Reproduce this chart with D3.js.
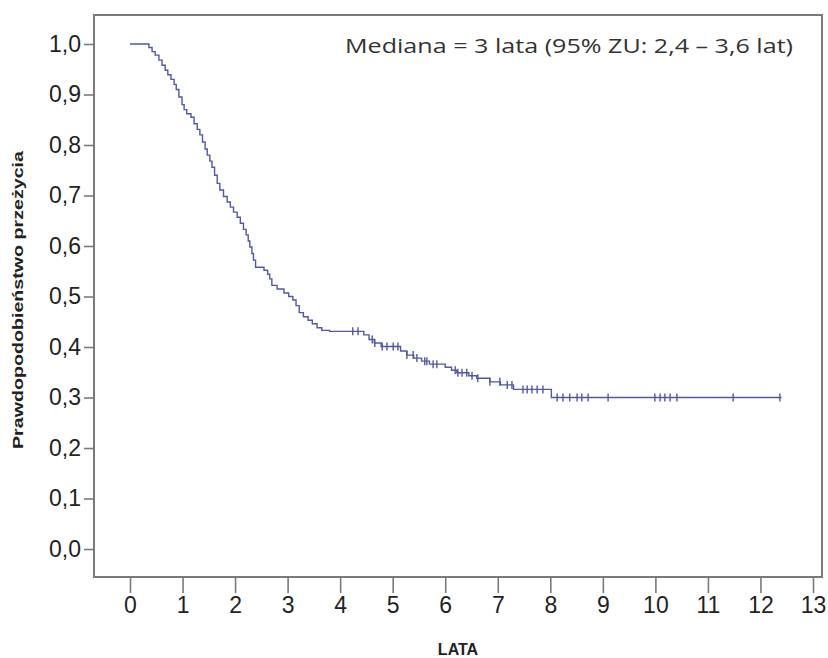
<!DOCTYPE html>
<html>
<head>
<meta charset="utf-8">
<script src="https://cdn.jsdelivr.net/npm/d3@7"></script>
<style>
html,body{margin:0;padding:0;background:#fff;}
svg{display:block;}
</style>
</head>
<body>
<svg id="chart" width="828" height="658"></svg>
<script>
// ---- data ----
const eventTimes = [0, 0.36,0.42,0.48,0.55,0.61,0.67,0.72,0.78,0.84,0.88,0.93,0.99,1.03,1.08,1.16,1.22,1.28,1.33,1.38,1.43,1.47,1.52,1.56,1.61,1.66,1.71,1.78,1.85,1.91,1.97,2.04,2.10,2.16,2.21,2.25,2.28,2.32,2.35,2.39,2.55,2.62,2.66,2.70,2.80,2.93,3.02,3.10,3.16,3.22,3.30,3.39,3.47,3.56,3.65,3.80,4.45,4.55,4.65,4.78,5.15,5.27,5.40,5.55,5.70,6.00,6.12,6.22,6.45,6.60,6.85,7.05,7.30,8.02];
const survival   = [1.0, 0.993,0.985,0.978,0.968,0.958,0.948,0.939,0.930,0.920,0.910,0.895,0.880,0.870,0.862,0.855,0.842,0.831,0.820,0.806,0.792,0.780,0.768,0.756,0.740,0.724,0.711,0.698,0.687,0.677,0.667,0.657,0.645,0.633,0.622,0.610,0.598,0.585,0.572,0.558,0.552,0.544,0.535,0.522,0.515,0.507,0.500,0.493,0.482,0.468,0.460,0.453,0.446,0.438,0.433,0.431,0.424,0.415,0.408,0.401,0.392,0.384,0.378,0.372,0.366,0.360,0.354,0.349,0.343,0.338,0.331,0.325,0.316,0.300];
const endTime = 12.40;
const censorTimes = [4.24,4.34,4.61,4.66,4.80,4.89,5.01,5.10,5.27,5.39,5.46,5.61,5.65,5.77,5.84,6.19,6.24,6.32,6.41,6.51,6.62,6.85,7.04,7.18,7.27,7.48,7.56,7.65,7.75,7.86,8.13,8.24,8.37,8.51,8.60,8.72,9.10,9.99,10.09,10.18,10.28,10.41,11.48,12.37];
const xTicks = [0,1,2,3,4,5,6,7,8,9,10,11,12,13];
const yTicks = [0,0.1,0.2,0.3,0.4,0.5,0.6,0.7,0.8,0.9,1.0];
const yTitle = "Prawdopodobieństwo przeżycia";
const xTitle = "LATA";
const note = "Mediana = 3 lata (95% ZU: 2,4 – 3,6 lat)";

// ---- layout ----
const svg = d3.select("#chart");
const frame = {left: 94, top: 15, right: 822, bottom: 577};
const x = d3.scaleLinear().domain([0, 13]).range([130, 813]);
const y = d3.scaleLinear().domain([0, 1]).range([549, 44]);
const curveColor = "#5158a6";
const axisColor = "#7a7a7a";
const fmt = d => d.toFixed(1).replace(".", ",");

// frame
svg.append("rect")
  .attr("x", frame.left).attr("y", frame.top)
  .attr("width", frame.right - frame.left).attr("height", frame.bottom - frame.top)
  .attr("fill", "none").attr("stroke", axisColor).attr("stroke-width", 2);

// y axis
const yAxis = d3.axisLeft(y).tickValues(yTicks).tickFormat(fmt).tickSize(10).tickSizeOuter(0).tickPadding(3);
const gy = svg.append("g").attr("transform", `translate(${frame.left},0)`).call(yAxis);
gy.select(".domain").remove();
gy.selectAll(".tick line").attr("stroke", axisColor).attr("stroke-width", 1.6);
gy.selectAll(".tick text").attr("fill", "#222").attr("font-family", "Liberation Sans, Arial, sans-serif").attr("font-size", 23);

// x axis
const xAxis = d3.axisBottom(x).tickValues(xTicks).tickFormat(d3.format("d")).tickSize(16).tickSizeOuter(0).tickPadding(4);
const gx = svg.append("g").attr("transform", `translate(0,${frame.bottom})`).call(xAxis);
gx.select(".domain").remove();
gx.selectAll(".tick line").attr("stroke", axisColor).attr("stroke-width", 1.6);
gx.selectAll(".tick text").attr("fill", "#222").attr("font-family", "Liberation Sans, Arial, sans-serif").attr("font-size", 23);

// titles
svg.append("text")
  .attr("transform", "translate(23,300) rotate(-90)")
  .attr("text-anchor", "middle")
  .attr("font-family", "Liberation Sans, Arial, sans-serif")
  .attr("font-weight", "bold").attr("font-size", 15).attr("fill", "#222")
  .attr("textLength", 298).attr("lengthAdjust", "spacingAndGlyphs")
  .text(yTitle);

svg.append("text")
  .attr("x", 458).attr("y", 655)
  .attr("text-anchor", "middle")
  .attr("font-family", "Liberation Sans, Arial, sans-serif")
  .attr("font-weight", "bold").attr("font-size", 16).attr("fill", "#222")
  .text(xTitle);

// annotation
svg.append("text")
  .attr("x", 345).attr("y", 53)
  .attr("font-family", "Open Sans, Lato, sans-serif")
  .attr("font-size", 20).attr("fill", "#333")
  .attr("textLength", 448).attr("lengthAdjust", "spacingAndGlyphs")
  .text(note);

// KM curve
const pts = eventTimes.map((t, i) => [t, survival[i]]);
pts.push([endTime, survival[survival.length - 1]]);
const line = d3.line().x(d => x(d[0])).y(d => y(d[1])).curve(d3.curveStepAfter);
svg.append("path").datum(pts)
  .attr("d", line)
  .attr("fill", "none").attr("stroke", curveColor).attr("stroke-width", 1.4);

// censor marks
const survAt = t => {
  let s = survival[0];
  for (let i = 0; i < eventTimes.length; i++) { if (eventTimes[i] <= t) s = survival[i]; }
  return s;
};
svg.append("g").selectAll("line").data(censorTimes).join("line")
  .attr("x1", d => x(d)).attr("x2", d => x(d))
  .attr("y1", d => y(survAt(d)) - 4).attr("y2", d => y(survAt(d)) + 4)
  .attr("stroke", curveColor).attr("stroke-width", 1.4);
</script>
</body>
</html>
